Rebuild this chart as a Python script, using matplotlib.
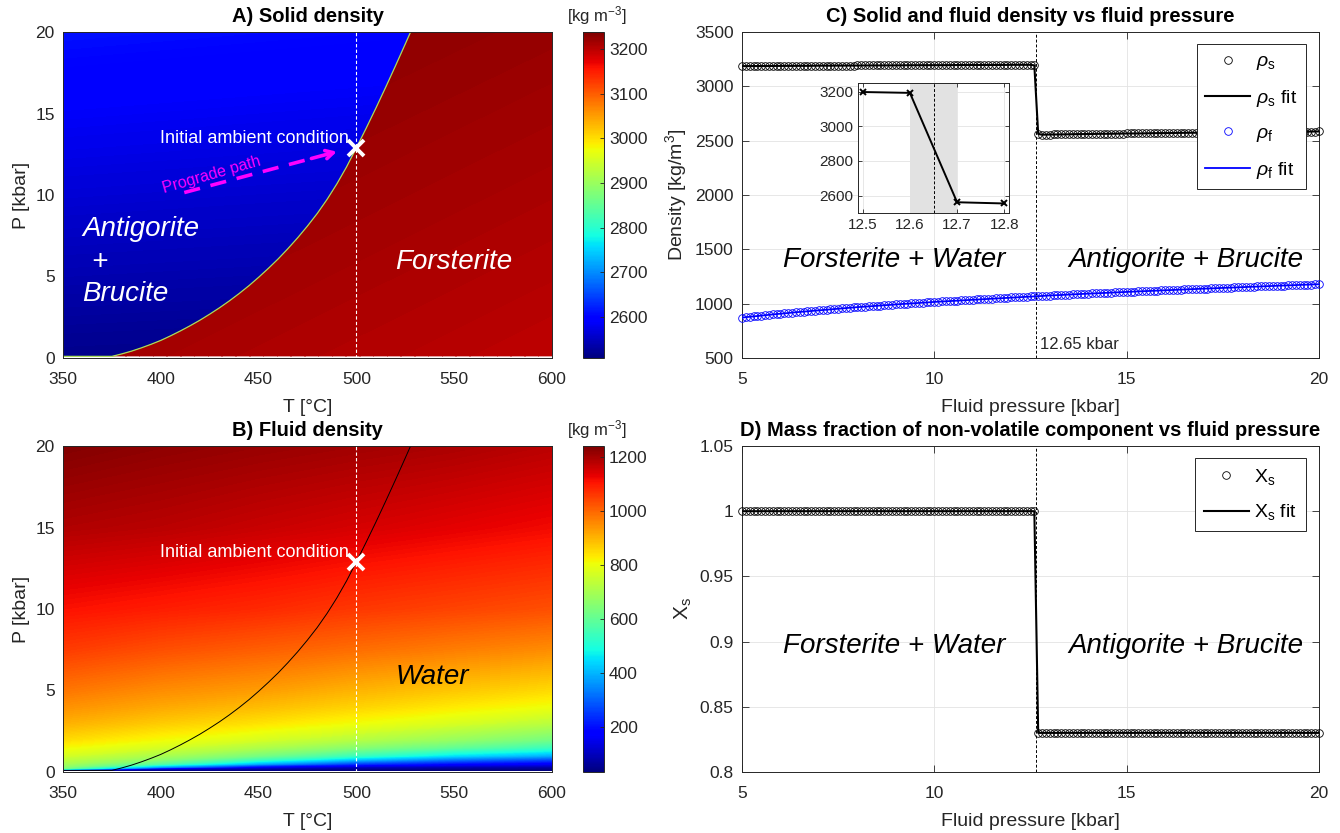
import numpy as np
import matplotlib
matplotlib.use("Agg")
import matplotlib.pyplot as plt
from matplotlib.patches import Polygon
from matplotlib.colors import Normalize
from matplotlib.cm import ScalarMappable

plt.rcParams["font.family"] = ["Liberation Sans", "DejaVu Sans"]
plt.rcParams["mathtext.fontset"] = "custom"
plt.rcParams["mathtext.rm"] = "Liberation Sans"
plt.rcParams["mathtext.it"] = "Liberation Sans:italic"

# ---------------------------------------------------------------- data ----
# Antigorite + brucite = forsterite + water reaction boundary (T in degC, P in kbar)
BOUNDARY_T = [350, 375, 380, 385, 390, 395, 400, 405, 410, 415, 420, 425, 430, 435,
              440, 445, 450, 455, 460, 465, 470, 475, 480, 485, 490, 495, 500, 505,
              510, 515, 520, 525, 527.7]
BOUNDARY_P = [0.1, 0.1, 0.25, 0.42, 0.62, 0.84, 1.08, 1.36, 1.66, 1.98, 2.32, 2.69, 3.08,
              3.50, 3.95, 4.43, 4.95, 5.50, 6.08, 6.71, 7.38, 8.10, 8.87, 9.73, 10.68,
              11.73, 12.90, 14.10, 15.34, 16.62, 17.93, 19.27, 20.0]

# Solid density of each assemblage at the corners of the T-P window [kg/m3]
FIELD_T = [350, 600]
FIELD_P = [0.1, 20]
RHO_ATG_BRC = [[2516, 2510],
               [2610, 2598]]
RHO_FO = [[3216, 3198],
          [3238, 3222]]

# Fluid (water) density table [kg/m3]; rows follow WATER_P, columns WATER_T
WATER_T = [350, 400, 450, 500, 550, 600]
WATER_P = [0.1, 0.2, 0.3, 0.5, 0.75, 1.0, 1.5, 2.0, 3.0, 4.0, 5.0, 7.5, 10, 15, 20]
WATER_RHO = [
    [45, 38, 33, 30, 28, 26],
    [620, 110, 72, 60, 52, 47],
    [660, 360, 150, 100, 82, 72],
    [700, 580, 390, 250, 190, 160],
    [735, 660, 540, 410, 320, 265],
    [765, 705, 630, 540, 450, 390],
    [810, 765, 715, 655, 600, 540],
    [850, 810, 770, 725, 680, 630],
    [905, 870, 840, 805, 770, 730],
    [945, 915, 890, 860, 830, 800],
    [980, 950, 930, 900, 875, 850],
    [1055, 1030, 1010, 990, 970, 950],
    [1110, 1095, 1080, 1060, 1045, 1030],
    [1190, 1180, 1165, 1150, 1135, 1120],
    [1238, 1225, 1215, 1205, 1195, 1180],
]

T_INIT, P_INIT = 500, 12.9
P_TRANSITION = 12.65

# Fluid pressure profile at 500 degC, 5 to 20 kbar every 0.1 kbar
FLUID_P = np.linspace(5.0, 20.0, 151)
RHO_S = [
    3186, 3186, 3186, 3187, 3187, 3187, 3187, 3187, 3188, 3188,
    3188, 3188, 3188, 3188, 3189, 3189, 3189, 3189, 3189, 3190,
    3190, 3190, 3190, 3190, 3190, 3191, 3191, 3191, 3191, 3191,
    3192, 3192, 3192, 3192, 3192, 3192, 3193, 3193, 3193, 3193,
    3193, 3193, 3194, 3194, 3194, 3194, 3194, 3194, 3195, 3195,
    3195, 3195, 3195, 3195, 3195, 3196, 3196, 3196, 3196, 3196,
    3196, 3196, 3197, 3197, 3197, 3197, 3197, 3197, 3197, 3198,
    3198, 3198, 3198, 3198, 3198, 3198, 3193,
    2562, 2555, 2556,
    2556, 2557, 2557, 2558, 2558, 2559, 2559, 2560, 2560, 2561,
    2561, 2562, 2562, 2563, 2563, 2564, 2564, 2564, 2565, 2565,
    2566, 2566, 2567, 2567, 2567, 2568, 2568, 2569, 2569, 2570,
    2570, 2570, 2571, 2571, 2572, 2572, 2572, 2573, 2573, 2574,
    2574, 2574, 2575, 2575, 2576, 2576, 2576, 2577, 2577, 2577,
    2578, 2578, 2578, 2579, 2579, 2580, 2580, 2580, 2581, 2581,
    2581, 2582, 2582, 2582, 2583, 2583, 2583, 2584, 2584, 2584,
    2585,
]
RHO_F = [
    872, 876, 879, 883, 886, 890, 894, 897, 901, 904,
    908, 911, 914, 918, 921, 924, 927, 930, 934, 937,
    940, 943, 946, 948, 951, 954, 957, 960, 962, 965,
    968, 970, 973, 975, 978, 980, 983, 985, 988, 990,
    993, 995, 998, 1000, 1002, 1004, 1007, 1009, 1011, 1014,
    1016, 1018, 1020, 1022, 1024, 1027, 1029, 1031, 1033, 1035,
    1037, 1039, 1041, 1043, 1045, 1047, 1049, 1051, 1053, 1055,
    1057, 1059, 1061, 1062, 1064, 1066, 1068, 1070, 1071, 1073,
    1075, 1077, 1078, 1080, 1082, 1084, 1085, 1087, 1089, 1090,
    1092, 1094, 1095, 1097, 1098, 1100, 1102, 1103, 1105, 1106,
    1108, 1110, 1111, 1113, 1114, 1116, 1117, 1119, 1120, 1122,
    1123, 1125, 1126, 1128, 1129, 1131, 1132, 1134, 1135, 1137,
    1138, 1139, 1141, 1142, 1144, 1145, 1146, 1148, 1149, 1151,
    1152, 1153, 1155, 1156, 1158, 1159, 1160, 1162, 1163, 1165,
    1166, 1167, 1169, 1170, 1171, 1173, 1174, 1175, 1176, 1178,
    1179,
]
X_S = [1.0] * 77 + [0.83] * 74

# zoom window around the transition
ZOOM_P = FLUID_P[75:79]
ZOOM_RHO_S = RHO_S[75:79]

# ---------------------------------------------------------------- style ---
W, H = 1340, 833
FS_TICK = 12.5
FS_LABEL = 14
FS_TITLE = 14.5
FS_PHASE = 20
AX_COLOR = "#262626"
MAGENTA = "#ff00ff"
TICK_PAD = 10
LABEL_PAD = 9

fig = plt.figure(figsize=(W / 100, H / 100), dpi=100)


def px_axes(left, top, right, bottom, **kw):
    return fig.add_axes([left / W, 1 - bottom / H, (right - left) / W, (bottom - top) / H], **kw)


def style_axes(ax, ticks=True):
    for s in ax.spines.values():
        s.set_color(AX_COLOR)
        s.set_linewidth(0.7)
    ax.tick_params(direction="in", length=5 if ticks else 0, width=0.6,
                   top=ticks, right=ticks, colors=AX_COLOR,
                   labelsize=FS_TICK, labelcolor=AX_COLOR)


def main_labels(ax, xlabel, ylabel, title):
    ax.tick_params(axis="x", pad=TICK_PAD)
    ax.tick_params(axis="y", pad=6)
    ax.set_xlabel(xlabel, fontsize=FS_LABEL, color=AX_COLOR, labelpad=LABEL_PAD)
    ax.set_ylabel(ylabel, fontsize=FS_LABEL, color=AX_COLOR)
    ax.set_title(title, fontsize=FS_TITLE, fontweight="bold", pad=7)


def colorbar(cax, norm, ticks, label_y):
    cb = fig.colorbar(ScalarMappable(norm=norm, cmap="jet"), cax=cax, ticks=ticks)
    cb.outline.set_linewidth(0.7)
    cb.outline.set_edgecolor(AX_COLOR)
    cb.ax.tick_params(direction="in", length=3, width=0.6, labelsize=FS_TICK,
                      colors=AX_COLOR, labelcolor=AX_COLOR)
    fig.text(597 / W, 1 - label_y / H, "[kg m$^{-3}$]", ha="center", va="center",
             fontsize=12, color=AX_COLOR)


def tp_frame(ax, title):
    ax.set_xlim(350, 600)
    ax.set_ylim(0, 20)
    ax.set_xticks([350, 400, 450, 500, 550, 600])
    ax.set_yticks([0, 5, 10, 15, 20])
    style_axes(ax, ticks=False)
    main_labels(ax, "T [°C]", "P [kbar]", title)
    ax.axvline(T_INIT, color="white", lw=0.8, ls=(0, (3, 2)), zorder=3)
    ax.plot([T_INIT], [P_INIT], marker="x", color="white", ms=11, mew=2.8, zorder=6)
    ax.text(T_INIT - 4, P_INIT + 0.55, "Initial ambient condition", color="white",
            fontsize=13, ha="right", va="center", zorder=6)


# ------------------------------------------------------- A) solid density -
axA = px_axes(63, 32, 552, 358)
normA = Normalize(2508, 3238)
TT, PP = np.meshgrid(FIELD_T, FIELD_P)

atg_region = Polygon(list(zip(BOUNDARY_T, BOUNDARY_P)) + [(350, 20)],
                     closed=True, transform=axA.transData)
fo_region = Polygon(list(zip(BOUNDARY_T[1:], BOUNDARY_P[1:])) + [(600, 20), (600, 0.1)],
                    closed=True, transform=axA.transData)

for rho, region in ((RHO_ATG_BRC, atg_region), (RHO_FO, fo_region)):
    z = np.array(rho, dtype=float)
    cs = axA.contourf(TT, PP, z, levels=np.linspace(z.min(), z.max(), 80),
                      cmap="jet", norm=normA, antialiased=False, zorder=1)
    cs.set_clip_path(region)

axA.plot(BOUNDARY_T, BOUNDARY_P, color="#a6dc5a", lw=0.9, zorder=2)
tp_frame(axA, "A) Solid density")

axA.plot([412, 478], [10.15, 12.27], color=MAGENTA, lw=2.6, ls=(0, (4.5, 3)),
         solid_capstyle="butt", zorder=5)
axA.annotate("", xy=(490, 12.66), xytext=(477, 12.24),
             arrowprops=dict(arrowstyle="->,head_length=0.55,head_width=0.3",
                             color=MAGENTA, lw=2.6, shrinkA=0, shrinkB=0), zorder=5)
axA.text(426, 11.25, "Prograde path", color=MAGENTA, fontsize=11.5, rotation=16,
         ha="center", va="center", zorder=5)

phase_kw = dict(color="white", fontsize=FS_PHASE, fontstyle="italic", zorder=5)
axA.text(360, 7.9, "Antigorite", ha="left", va="center", **phase_kw)
axA.text(368.5, 5.9, "+", ha="center", va="center", **phase_kw)
axA.text(360, 3.95, "Brucite", ha="left", va="center", **phase_kw)
axA.text(549.5, 5.9, "Forsterite", ha="center", va="center", **phase_kw)

colorbar(px_axes(583, 32, 604, 358), normA, [2600, 2700, 2800, 2900, 3000, 3100, 3200], 16)

# ------------------------------------------------------- B) fluid density -
axB = px_axes(63, 446, 552, 772)
normB = Normalize(33, 1242)
zW = np.array(WATER_RHO, dtype=float)
axB.contourf(WATER_T, WATER_P, zW, levels=np.linspace(zW.min(), zW.max(), 256),
             cmap="jet", norm=normB, antialiased=False, zorder=1)
axB.plot(BOUNDARY_T, BOUNDARY_P, color="black", lw=0.7, zorder=2)
tp_frame(axB, "B) Fluid density")
axB.text(539, 5.85, "Water", color="black", fontsize=FS_PHASE, fontstyle="italic",
         ha="center", va="center", zorder=5)

colorbar(px_axes(583, 446, 604, 772), normB, [200, 400, 600, 800, 1000, 1200], 430)

# ------------------------------------------- C) density vs fluid pressure -
axC = px_axes(742, 32, 1319, 358)
style_axes(axC)
axC.grid(True, color="#e3e3e3", lw=0.6, zorder=0)
axC.set_axisbelow(True)
mk = dict(ls="none", marker="o", ms=5.5, mfc="none", mew=0.6, clip_on=False, zorder=3)
axC.plot(FLUID_P, RHO_S, mec="black", label=r"$\rho_{\rm s}$", **mk)
axC.plot(FLUID_P, RHO_S, color="black", lw=1.5, label=r"$\rho_{\rm s}$ fit", zorder=4)
axC.plot(FLUID_P, RHO_F, mec="#0000ff", label=r"$\rho_{\rm f}$", **mk)
axC.plot(FLUID_P, RHO_F, color="#0000ff", lw=1.3, label=r"$\rho_{\rm f}$ fit", zorder=4)
axC.axvline(P_TRANSITION, color="black", lw=0.7, ls=(0, (3, 2)), zorder=2)
axC.set_xlim(5, 20)
axC.set_ylim(500, 3500)
axC.set_xticks([5, 10, 15, 20])
axC.set_yticks(np.arange(500, 3501, 500))
main_labels(axC, "Fluid pressure [kbar]", "Density [kg/m$^3$]",
            "C) Solid and fluid density vs fluid pressure")
axC.text(P_TRANSITION + 0.1, 620, f"{P_TRANSITION:.2f} kbar", fontsize=12,
         color=AX_COLOR, ha="left", va="center")
txt_kw = dict(color="black", fontsize=FS_PHASE, fontstyle="italic", ha="center", va="center")
axC.text(8.95, 1400, "Forsterite + Water", **txt_kw)
axC.text(16.55, 1400, "Antigorite + Brucite", **txt_kw)
leg_kw = dict(loc="upper right", bbox_to_anchor=(0.9775, 0.963), borderaxespad=0,
              fontsize=14, numpoints=1, handlelength=2.3, labelspacing=0.8,
              fancybox=False, framealpha=1, edgecolor=AX_COLOR, borderpad=0.45,
              handletextpad=0.3)
legC = axC.legend(**leg_kw)
legC.get_frame().set_linewidth(0.7)

# inset zoom around the transition
axI = px_axes(858, 83, 1009, 213)
style_axes(axI)
axI.tick_params(labelsize=11, length=3)
axI.grid(True, color="#e3e3e3", lw=0.6)
axI.set_axisbelow(True)
axI.axvspan(12.6, 12.7, color="#e2e2e2", lw=0, zorder=1)
axI.axvline(P_TRANSITION, color="black", lw=0.7, ls=(0, (3, 2)), zorder=2)
axI.plot(ZOOM_P, ZOOM_RHO_S, color="black", lw=1.4, marker="x", ms=5, mew=1.4, zorder=3)
axI.set_xlim(12.49, 12.81)
axI.set_ylim(2500, 3250)
axI.set_xticks([12.5, 12.6, 12.7, 12.8])
axI.set_yticks([2600, 2800, 3000, 3200])

# ------------------------------------- D) mass fraction vs fluid pressure -
axD = px_axes(742, 446, 1319, 772)
style_axes(axD)
axD.grid(True, color="#e3e3e3", lw=0.6, zorder=0)
axD.set_axisbelow(True)
axD.plot(FLUID_P, X_S, mec="black", label=r"X$_{\rm s}$", **mk)
axD.plot(FLUID_P, X_S, color="black", lw=1.5, label=r"X$_{\rm s}$ fit", zorder=4)
axD.axvline(P_TRANSITION, color="black", lw=0.7, ls=(0, (3, 2)), zorder=2)
axD.set_xlim(5, 20)
axD.set_ylim(0.8, 1.05)
axD.set_xticks([5, 10, 15, 20])
axD.set_yticks([0.8, 0.85, 0.9, 0.95, 1.0, 1.05])
axD.set_yticklabels(["0.8", "0.85", "0.9", "0.95", "1", "1.05"])
main_labels(axD, "Fluid pressure [kbar]", r"X$_{\rm s}$",
            "D) Mass fraction of non-volatile component vs fluid pressure")
axD.yaxis.label.set_size(FS_LABEL + 1)
axD.text(8.95, 0.897, "Forsterite + Water", **txt_kw)
axD.text(16.55, 0.897, "Antigorite + Brucite", **txt_kw)
legD = axD.legend(**leg_kw)
legD.get_frame().set_linewidth(0.7)

fig.savefig("out.png", dpi=100)
